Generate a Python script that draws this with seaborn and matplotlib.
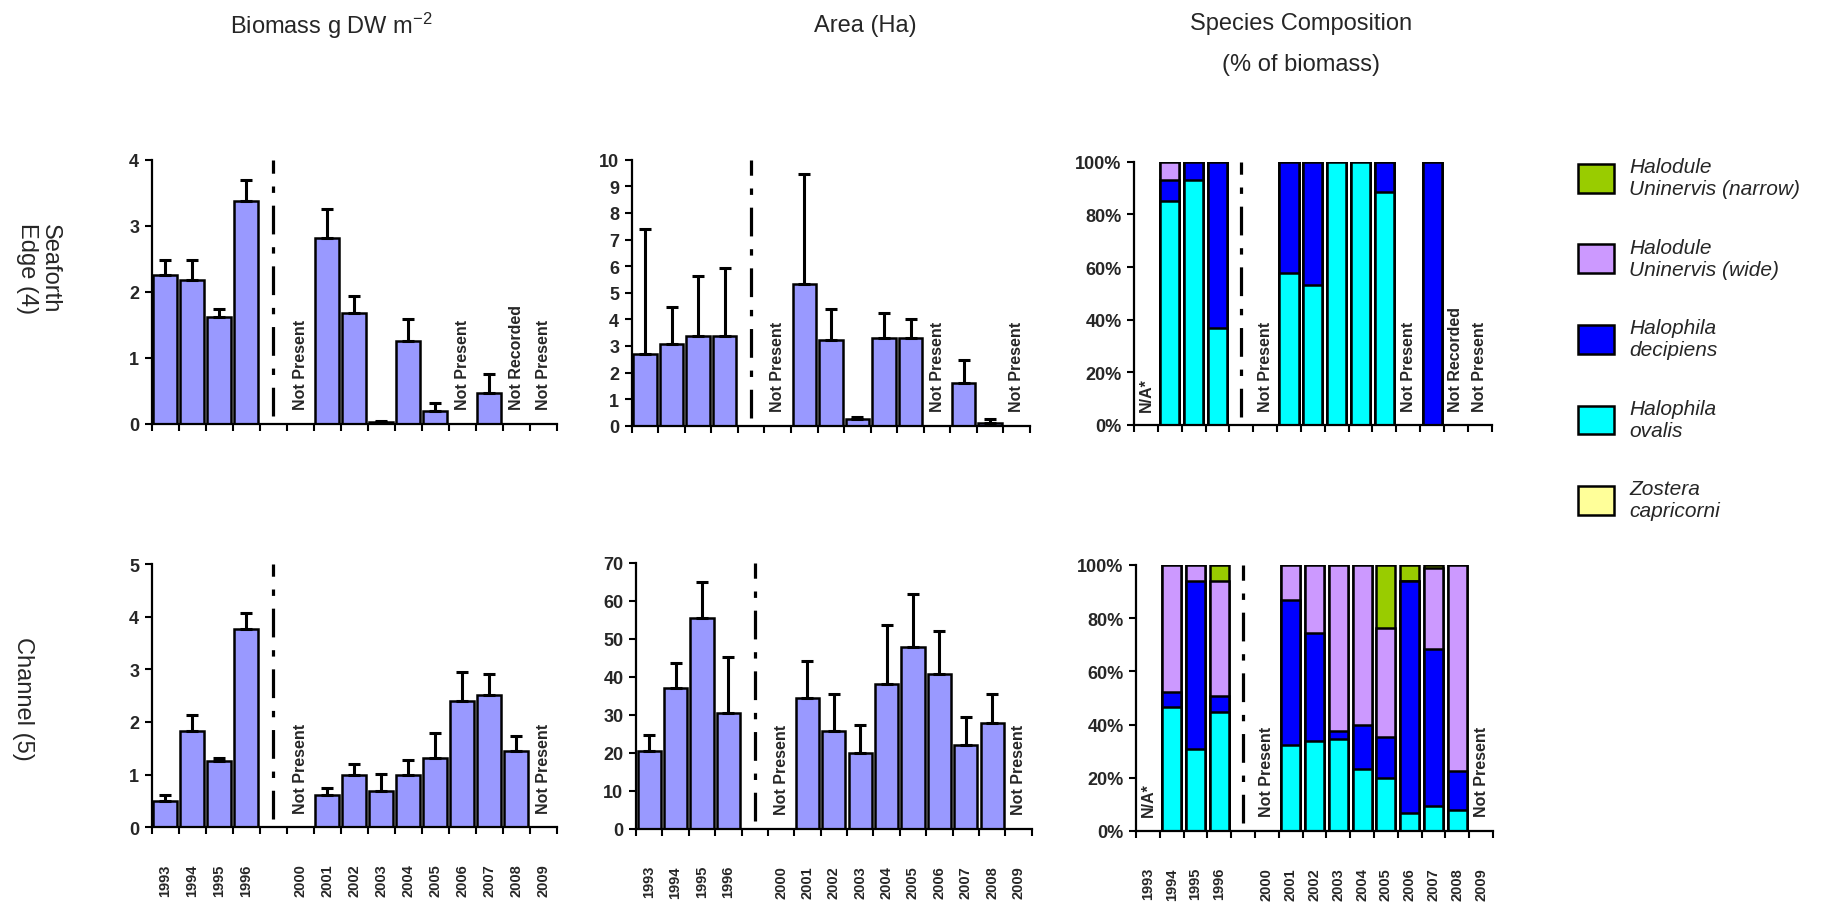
import numpy as np
import pandas as pd
import matplotlib
matplotlib.use("Agg")
import matplotlib.pyplot as plt
from matplotlib.patches import Patch
from matplotlib.ticker import PercentFormatter
import seaborn as sns

# ---------------- data ----------------
year_labels = ["1993", "1994", "1995", "1996", "", "2000", "2001", "2002",
               "2003", "2004", "2005", "2006", "2007", "2008", "2009"]
nan = np.nan

# Seaforth Edge (4)
sea_biomass = [2.25, 2.18, 1.62, 3.38, nan, 0, 2.82, 1.68, 0.03, 1.25, 0.19, 0, 0.47, 0, 0]
sea_biomass_err = [0.23, 0.30, 0.12, 0.31, nan, nan, 0.43, 0.25, 0.01, 0.34, 0.13, nan, 0.28, nan, nan]
sea_area = [2.69, 3.08, 3.38, 3.38, nan, 0, 5.31, 3.23, 0.25, 3.31, 3.31, 0, 1.62, 0.09, 0]
sea_area_err = [4.70, 1.38, 2.25, 2.55, nan, nan, 4.16, 1.16, 0.09, 0.94, 0.69, nan, 0.85, 0.16, nan]

# Channel (5)
chan_biomass = [0.50, 1.82, 1.25, 3.77, nan, 0, 0.61, 1.00, 0.69, 1.00, 1.32, 2.40, 2.52, 1.44, 0]
chan_biomass_err = [0.11, 0.31, 0.07, 0.30, nan, nan, 0.13, 0.20, 0.32, 0.28, 0.47, 0.54, 0.39, 0.30, nan]
chan_area = [20.4, 37.1, 55.4, 30.6, nan, 0, 34.4, 25.8, 19.9, 38.2, 47.9, 40.9, 22.1, 28.0, 0]
chan_area_err = [4.3, 6.5, 9.7, 14.6, nan, nan, 9.7, 9.6, 7.5, 15.6, 13.9, 11.2, 7.5, 7.4, nan]

# Species composition (% of biomass)
species = ["Zostera\ncapricorni", "Halophila\novalis", "Halophila\ndecipiens",
           "Halodule\nUninervis (wide)", "Halodule\nUninervis (narrow)"]
species_colors = ["#FFFF99", "#00FFFF", "#0000FF", "#CC99FF", "#99CC00"]

sea_zostera   = [nan, 0, 0, 0, nan, nan, 0, 0, 0, 0, 0, nan, 0, nan, nan]
sea_ovalis    = [nan, 85.2, 92.9, 36.8, nan, nan, 57.8, 53.3, 100, 100, 88.4, nan, 0, nan, nan]
sea_decipiens = [nan, 7.7, 7.1, 63.2, nan, nan, 42.2, 46.7, 0, 0, 11.6, nan, 100, nan, nan]
sea_wide      = [nan, 7.1, 0, 0, nan, nan, 0, 0, 0, 0, 0, nan, 0, nan, nan]
sea_narrow    = [nan, 0, 0, 0, nan, nan, 0, 0, 0, 0, 0, nan, 0, nan, nan]

chan_zostera   = [nan, 0, 0, 0, nan, nan, 0, 0, 0, 0, 0, 0, 0, 0, nan]
chan_ovalis    = [nan, 46.8, 30.7, 44.8, nan, nan, 32.2, 33.8, 34.7, 23.2, 20.0, 6.9, 9.3, 7.8, nan]
chan_decipiens = [nan, 5.4, 63.2, 6.1, nan, nan, 54.8, 40.8, 2.8, 16.8, 15.5, 87.0, 59.2, 14.6, nan]
chan_wide      = [nan, 47.8, 6.1, 43.0, nan, nan, 13.0, 25.4, 62.5, 60.0, 40.7, 0, 30.2, 77.6, nan]
chan_narrow    = [nan, 0, 0, 6.1, nan, nan, 0, 0, 0, 0, 23.8, 6.1, 1.3, 0, nan]

# notes written in the plots
sea_biomass_notes = ["", "", "", "", "", "Not Present", "", "", "", "", "", "Not Present", "", "Not Recorded", "Not Present"]
sea_area_notes    = ["", "", "", "", "", "Not Present", "", "", "", "", "", "Not Present", "", "", "Not Present"]
sea_comp_notes    = ["N/A*", "", "", "", "", "Not Present", "", "", "", "", "", "Not Present", "", "Not Recorded", "Not Present"]
chan_biomass_notes = ["", "", "", "", "", "Not Present", "", "", "", "", "", "", "", "", "Not Present"]
chan_area_notes    = ["", "", "", "", "", "Not Present", "", "", "", "", "", "", "", "", "Not Present"]
chan_comp_notes    = ["N/A*", "", "", "", "", "Not Present", "", "", "", "", "", "", "", "", "Not Present"]

col_titles = ["Biomass g DW m$^{-2}$", "Area (Ha)", "Species Composition", "(% of biomass)"]
row_titles = ["Seaforth\nEdge (4)", "Channel (5)"]

# ---------------- style ----------------
sns.set_theme(style="white")
plt.rcParams["font.family"] = ["Liberation Sans", "DejaVu Sans"]
plt.rcParams["mathtext.fontset"] = "custom"
plt.rcParams["mathtext.rm"] = "Liberation Sans"
plt.rcParams["mathtext.default"] = "regular"

BAR = "#9999FF"
W, H = 1821, 903
fig = plt.figure(figsize=(W / 100, H / 100), dpi=100)

def fax(x0, x1, ytop, ybot):
    return fig.add_axes([x0 / W, 1 - ybot / H, (x1 - x0) / W, (ybot - ytop) / H])

gap = year_labels.index("")
pos = np.arange(len(year_labels))


def style_axes(ax, ymax, step, show_x, pct=False):
    ax.set_xlim(-0.5, len(year_labels) - 0.5)
    ax.set_ylim(0, ymax)
    ax.set_yticks(np.arange(0, ymax + step / 2, step))
    if pct:
        ax.yaxis.set_major_formatter(PercentFormatter(decimals=0))
    ax.set_xlabel("")
    ax.set_ylabel("")
    sns.despine(ax=ax)
    for s in ("left", "bottom"):
        ax.spines[s].set_color("black")
        ax.spines[s].set_linewidth(1.6)
    ax.set_xticks(pos)
    ax.set_xticklabels(year_labels)
    ax.set_xticks(np.arange(-0.5, len(year_labels), 1), minor=True)
    ax.tick_params(axis="x", which="major", length=0, pad=26,
                   labelbottom=show_x, labelsize=10.5, labelrotation=90)
    ax.tick_params(axis="x", which="minor", length=5, width=1.5, color="black",
                   bottom=True, direction="out")
    ax.tick_params(axis="y", which="major", length=5, width=1.5, color="black",
                   left=True, direction="out", labelsize=13, pad=4)
    for t in ax.get_xticklabels() + ax.get_yticklabels():
        t.set_fontweight("bold")
    ax.axvline(gap, ymin=0.03, ymax=1.0, color="black", lw=2.3,
               dashes=(9, 4, 2, 4))
    ax.grid(False)


def notes_on(ax, notes):
    for i, txt in enumerate(notes):
        if txt:
            ax.text(i, 0.055, txt, transform=ax.get_xaxis_transform(),
                    rotation=90, ha="center", va="bottom", fontsize=11.5,
                    fontweight="bold")


def bar_panel(ax, vals, errs, notes, ymax, step, show_x):
    vals = np.array(vals, float)
    errs = np.array(errs, float)
    df = pd.DataFrame({"year": year_labels, "value": vals})
    sns.barplot(data=df, x="year", y="value", order=year_labels, color=BAR,
                saturation=1, edgecolor="black", linewidth=1.8, width=0.88,
                errorbar=None, ax=ax)
    m = ~np.isnan(errs)
    ax.errorbar(pos[m], vals[m], yerr=[np.zeros(m.sum()), errs[m]], fmt="none",
                ecolor="black", elinewidth=2.2, capsize=4, capthick=2.2, zorder=1)
    style_axes(ax, ymax, step, show_x)
    notes_on(ax, notes)


def comp_panel(ax, layers, notes, show_x):
    cum = np.cumsum(np.vstack([np.array(l, float) for l in layers]), axis=0)
    for i in reversed(range(len(layers))):
        df = pd.DataFrame({"year": year_labels, "value": cum[i]})
        sns.barplot(data=df, x="year", y="value", order=year_labels,
                    color=species_colors[i], saturation=1, edgecolor="black",
                    linewidth=1.8, width=0.8, errorbar=None, ax=ax)
    style_axes(ax, 100, 20, show_x, pct=True)
    notes_on(ax, notes)


ax1 = fax(151.7, 556.7, 160.7, 425)
bar_panel(ax1, sea_biomass, sea_biomass_err, sea_biomass_notes, 4, 1, False)
ax2 = fax(631.7, 1030, 160.7, 426.7)
bar_panel(ax2, sea_area, sea_area_err, sea_area_notes, 10, 1, False)
ax3 = fax(1134, 1491.7, 162.7, 426)
comp_panel(ax3, [sea_zostera, sea_ovalis, sea_decipiens, sea_wide, sea_narrow],
           sea_comp_notes, False)

ax4 = fax(151.7, 556.7, 565, 828.3)
bar_panel(ax4, chan_biomass, chan_biomass_err, chan_biomass_notes, 5, 1, True)
ax5 = fax(636, 1031.7, 564, 830)
bar_panel(ax5, chan_area, chan_area_err, chan_area_notes, 70, 10, True)
ax6 = fax(1136, 1493, 566, 832)
comp_panel(ax6, [chan_zostera, chan_ovalis, chan_decipiens, chan_wide, chan_narrow],
           chan_comp_notes, True)

# column titles
fig.text(331 / W, 1 - 26 / H, col_titles[0], ha="center", va="center", fontsize=17)
fig.text(865 / W, 1 - 26 / H, col_titles[1], ha="center", va="center", fontsize=17)
fig.text(1301 / W, 1 - 24 / H, col_titles[2], ha="center", va="center", fontsize=17)
fig.text(1301 / W, 1 - 65 / H, col_titles[3], ha="center", va="center", fontsize=17)

# row titles
fig.text(38 / W, 1 - 269 / H, row_titles[0], rotation=-90, ha="center",
         va="center", fontsize=17, linespacing=1.05)
fig.text(23 / W, 1 - 699 / H, row_titles[1], rotation=-90, ha="center",
         va="center", fontsize=17)

# legend
handles = [Patch(facecolor=c, edgecolor="black", linewidth=1.8)
           for c in species_colors]
order = [4, 3, 2, 1, 0]
leg = fig.legend([handles[i] for i in order], [species[i] for i in order],
                 loc="upper left", bbox_to_anchor=(1578 / W, 1 - 158 / H),
                 frameon=False, prop={"style": "italic", "size": 15},
                 handlelength=1.75, handleheight=1.75, handletextpad=0.7,
                 labelspacing=1.9, borderpad=0, borderaxespad=0)

fig.savefig("out.png", dpi=100, facecolor="white")
